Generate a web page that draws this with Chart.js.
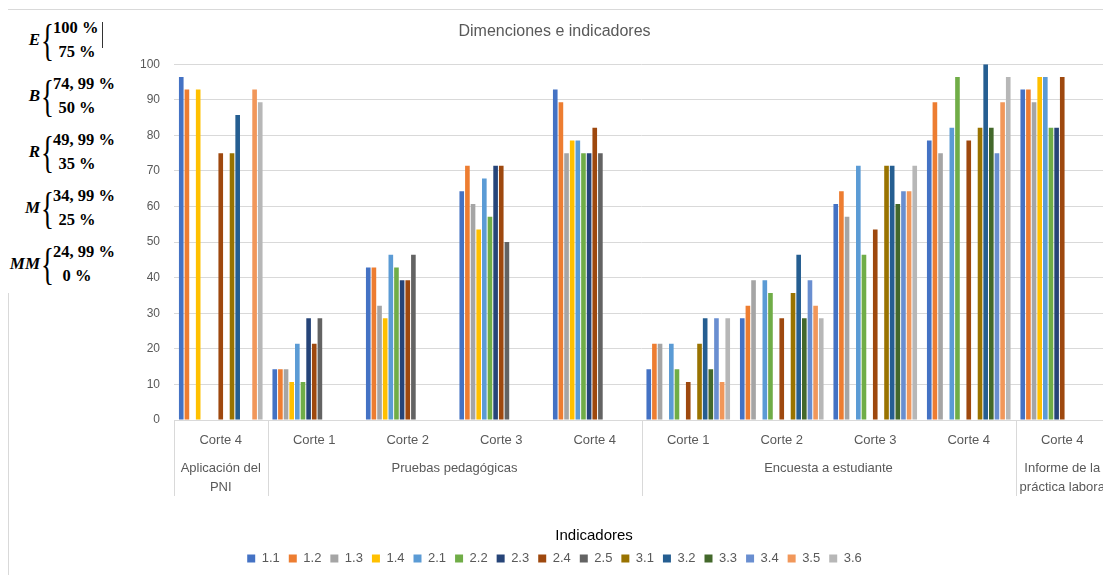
<!DOCTYPE html>
<html>
<head>
<meta charset="utf-8">
<script src="https://cdn.jsdelivr.net/npm/chart.js@4.4.0/dist/chart.umd.min.js"></script>
<style>
    html, body { margin: 0; padding: 0; overflow: hidden; background: #fff; }
    #wrap { position: relative; width: 1103px; height: 575px; overflow: hidden; }
    #frame { position: absolute; left: 8px; top: 9px; width: 1200px; height: 700px;
             border-top: 1px solid #d9d9d9; border-left: 1px solid #d9d9d9; }
    #myChart { position: absolute; left: 0; top: 0; }
    #escala { position: absolute; left: 0; top: 10px; width: 132px; height: 283px; background: #fff; }
    .f { position: absolute; font-family: "Liberation Serif", "Times New Roman", serif;
         font-weight: bold; color: #000; white-space: nowrap; line-height: 20px; height: 20px; }
    .letra { left: 0; width: 40px; text-align: right; font-style: italic; font-size: 17px; }
    .llave { left: 41px; font-weight: normal; font-size: 30px; line-height: 30px; height: 30px;
             transform: scale(0.9, 1.45); transform-origin: left center; }
    .alto { left: 53px; font-size: 16.5px; }
    .bajo { left: 27px; width: 100px; text-align: center; font-size: 16.5px; }
    #cursor { position: absolute; left: 102px; top: 22px; width: 1px; height: 26px; background: #333; }
</style>
</head>
<body>
<div id="wrap">
    <div id="frame"></div>
    <canvas id="myChart" width="1115" height="575"></canvas>
    <div id="escala"></div>
    <div id="cursor"></div>
</div>
<script>
// categorias del eje
const categorias = ['Corte 4', 'Corte 1', 'Corte 2', 'Corte 3', 'Corte 4', 'Corte 1', 'Corte 2', 'Corte 3', 'Corte 4', 'Corte 4'];
const grupos = [['Aplicación del', 'PNI'], ['Pruebas pedagógicas'], ['Encuesta a estudiante'], ['Informe de la', 'práctica labora']];
const inicioGrupo = [0, 1, 5, 9];

const indicadores = ['1.1', '1.2', '1.3', '1.4', '2.1', '2.2', '2.3', '2.4', '2.5', '3.1', '3.2', '3.3', '3.4', '3.5', '3.6'];

const v11 = [96.43, 14.29, 42.86, 64.29, 92.86, 14.29, 28.57, 60.71, 78.57, 92.86];
const v12 = [92.86, 14.29, 42.86, 71.43, 89.29, 21.43, 32.14, 64.29, 89.29, 92.86];
const v13 = [null, 14.29, 32.14, 60.71, 75, 21.43, 39.29, 57.14, 75, 89.29];
const v14 = [92.86, 10.71, 28.57, 53.57, 78.57, null, null, null, null, 96.43];
const v21 = [null, 21.43, 46.43, 67.86, 78.57, 21.43, 39.29, 71.43, 82.14, 96.43];
const v22 = [null, 10.71, 42.86, 57.14, 75, 14.29, 35.71, 46.43, 96.43, 82.14];
const v23 = [null, 28.57, 39.29, 71.43, 75, null, null, null, null, 82.14];
const v24 = [75, 21.43, 39.29, 71.43, 82.14, 10.71, 28.57, 53.57, 78.57, 96.43];
const v25 = [null, 28.57, 46.43, 50, 75, null, null, null, null, null];
const v31 = [75, null, null, null, null, 21.43, 35.71, 71.43, 82.14, null];
const v32 = [85.71, null, null, null, null, 28.57, 46.43, 71.43, 100, null];
const v33 = [null, null, null, null, null, 14.29, 28.57, 60.71, 82.14, null];
const v34 = [null, null, null, null, null, 28.57, 39.29, 64.29, 75, null];
const v35 = [92.86, null, null, null, null, 10.71, 32.14, 64.29, 89.29, null];
const v36 = [89.29, null, null, null, null, 28.57, 28.57, 71.43, 96.43, null];
const series = [v11, v12, v13, v14, v21, v22, v23, v24, v25, v31, v32, v33, v34, v35, v36];

const colores = ['#4472C4', '#ED7D31', '#A5A5A5', '#FFC000', '#5B9BD5', '#70AD47', '#264478', '#9E480E',
    '#636363', '#997300', '#255E91', '#43682B', '#698ED0', '#F1975A', '#B7B7B7'];

// escala de valoracion (texto a la izquierda)
const niveles = ['E', 'B', 'R', 'M', 'MM'];
const nivelAlto = ['100 %', '74, 99 %', '49, 99 %', '34, 99 %', '24, 99 %'];
const nivelBajo = ['75 %', '50 %', '35 %', '25 %', '0 %'];

const wrap = document.getElementById('wrap');
niveles.forEach((n, i) => {
    const y = 28 + i * 56;
    const add = (cls, txt, top) => {
        const s = document.createElement('span');
        s.className = 'f ' + cls;
        s.textContent = txt;
        s.style.top = top + 'px';
        wrap.appendChild(s);
    };
    add('letra', n, y + 2);
    add('llave', '{', y - 3);
    add('alto', nivelAlto[i], y - 10);
    add('bajo', nivelBajo[i], y + 14);
});

const gruposEje = {
    id: 'gruposEje',
    afterDraw(chart) {
        const x = chart.scales.x;
        const ctx = chart.ctx;
        const paso = x.getPixelForValue(1) - x.getPixelForValue(0);
        const base = chart.chartArea.bottom;
        const cortes = inicioGrupo.concat([categorias.length]);
        ctx.save();
        ctx.strokeStyle = '#d9d9d9';
        ctx.lineWidth = 1;
        cortes.forEach(i => {
            const px = Math.round(x.getPixelForValue(i) - paso / 2) + 0.5;
            ctx.beginPath();
            ctx.moveTo(px, base);
            ctx.lineTo(px, base + 76);
            ctx.stroke();
        });
        ctx.fillStyle = '#595959';
        ctx.font = '13px "Liberation Sans", Arial, sans-serif';
        ctx.textAlign = 'center';
        ctx.textBaseline = 'middle';
        grupos.forEach((lineas, g) => {
            const cx = (x.getPixelForValue(cortes[g]) + x.getPixelForValue(cortes[g + 1] - 1)) / 2;
            lineas.forEach((t, k) => ctx.fillText(t, cx, base + 48 + k * 19));
        });
        ctx.restore();
    }
};

Chart.defaults.font.family = '"Liberation Sans", Arial, sans-serif';

const data = {
    labels: categorias,
    datasets: indicadores.map((nombre, i) => ({
        label: nombre,
        data: series[i],
        backgroundColor: colores[i],
        borderWidth: 0,
        barPercentage: 0.82,
        categoryPercentage: 0.905,
    }))
};

const options = {
    responsive: false,
    animation: false,
    layout: {
        padding: { left: 0, right: 6, top: 0, bottom: 0 }
    },
    scales: {
        x: {
            grid: {
                display: false
            },
            border: {
                color: '#d9d9d9'
            },
            ticks: {
                color: '#595959',
                font: { size: 13 },
                padding: 5,
                maxRotation: 0,
                autoSkip: false
            },
            afterFit: s => { s.height = 103; }
        },
        y: {
            min: 0,
            max: 100,
            ticks: {
                stepSize: 10,
                color: '#595959',
                font: { size: 12 },
                padding: 14
            },
            grid: {
                color: '#d9d9d9',
                drawTicks: false
            },
            border: {
                display: false
            },
            afterFit: s => { s.width = 174; }
        }
    },
    plugins: {
        title: {
            display: true,
            text: 'Dimenciones e indicadores',
            color: '#595959',
            font: { size: 16, weight: 'normal' },
            padding: { top: 22, bottom: 23 }
        },
        legend: {
            position: 'bottom',
            labels: {
                boxWidth: 8,
                boxHeight: 8,
                color: '#595959',
                font: { size: 13 },
                padding: 9
            },
            title: {
                display: true,
                text: '                   Indicadores',
                color: '#000',
                font: { size: 15, lineHeight: 1 },
                padding: { top: 5, bottom: 0 }
            }
        },
        tooltip: { enabled: false }
    }
};

const myChart = new Chart(
    document.getElementById('myChart'),
    { type: 'bar', data: data, options, plugins: [gruposEje] }
);
</script>
</body>
</html>
